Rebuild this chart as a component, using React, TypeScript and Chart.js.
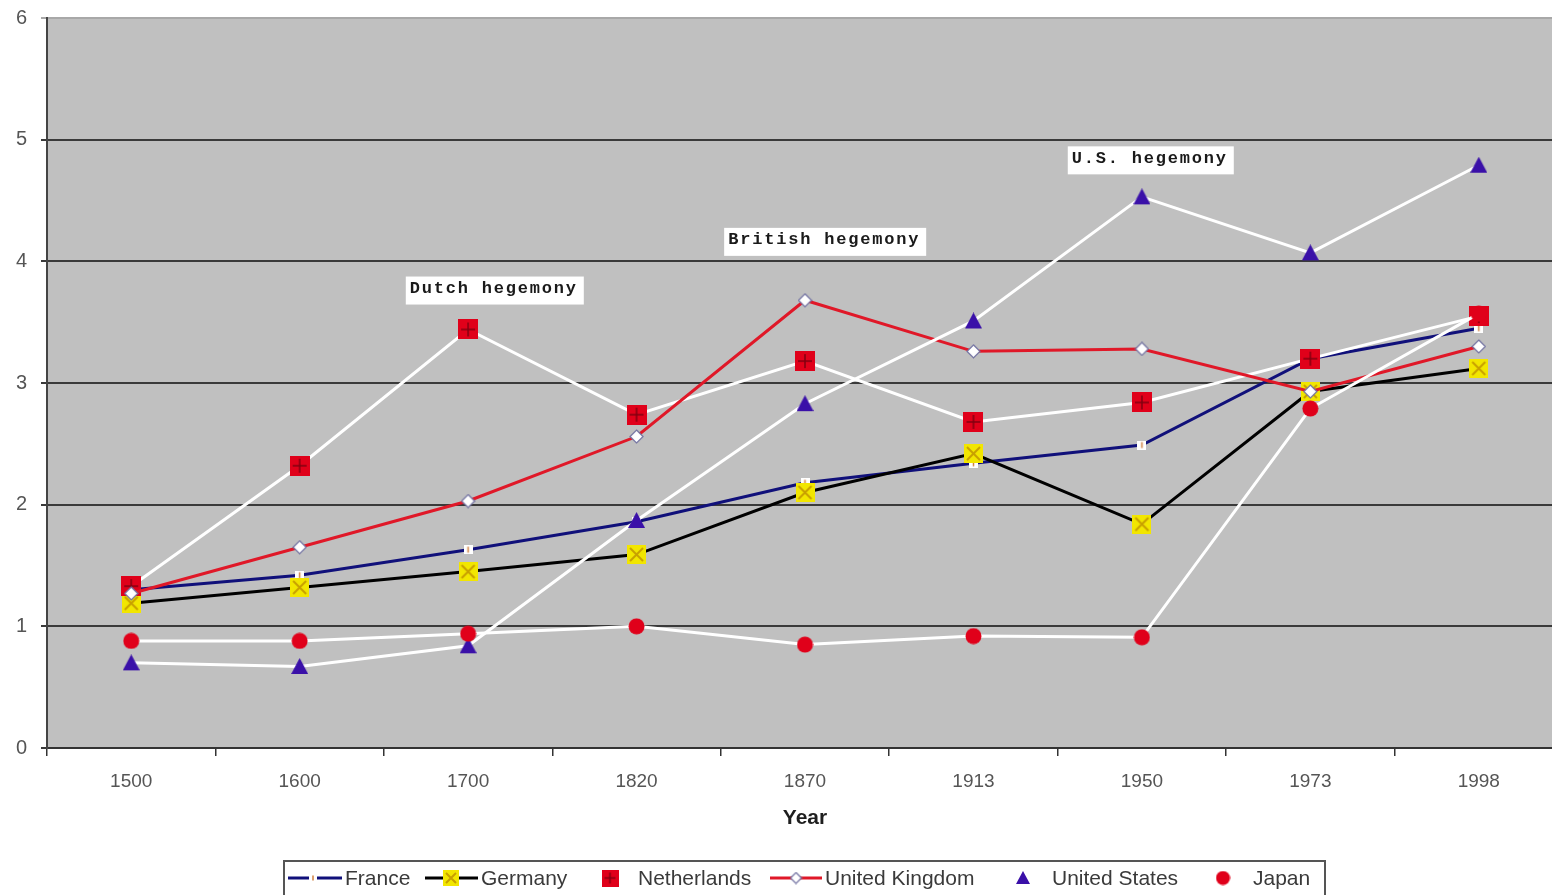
import React, { useEffect, useRef } from "react";
import { Chart, registerables } from "chart.js";
Chart.register(...registerables);

const years = ["1500", "1600", "1700", "1820", "1870", "1913", "1950", "1973", "1998"];
const france = [1.3, 1.42, 1.63, 1.86, 2.18, 2.34, 2.49, 3.2, 3.45];
const germany = [1.19, 1.32, 1.45, 1.59, 2.1, 2.42, 1.84, 2.93, 3.12];
const netherlands = [1.33, 2.32, 3.44, 2.74, 3.18, 2.68, 2.84, 3.2, 3.55];
const unitedKingdom = [1.27, 1.65, 2.03, 2.56, 3.68, 3.26, 3.28, 2.93, 3.3];
const unitedStates = [0.7, 0.67, 0.84, 1.87, 2.83, 3.51, 4.53, 4.07, 4.79];
const japan = [0.88, 0.88, 0.94, 1.0, 0.85, 0.92, 0.91, 2.79, 3.57];
const seriesNames = ["France", "Germany", "Netherlands", "United Kingdom", "United States", "Japan"];
const annotationTexts = ["Dutch hegemony", "British hegemony", "U.S. hegemony"];
const annotationX = [1.63, 3.52, 5.56];
const annotationY = [3.76, 4.16, 4.83];
const xTitle = "Year";

function mk(w: number, h: number, draw: (c: CanvasRenderingContext2D) => void) {
  const c = document.createElement("canvas");
  c.width = w;
  c.height = h;
  draw(c.getContext("2d") as CanvasRenderingContext2D);
  return c;
}

function franceMarker(s: number) {
  return mk(s, s, (c) => {
    c.fillStyle = "#ffffff";
    c.fillRect(0, 0, s, s);
    c.strokeStyle = "#d08040";
    c.lineWidth = 1.5;
    c.beginPath();
    c.moveTo(s / 2, 1.5);
    c.lineTo(s / 2, s - 1.5);
    c.stroke();
  });
}
function germanyMarker(s: number) {
  return mk(s, s, (c) => {
    c.fillStyle = "#f2e600";
    c.fillRect(0, 0, s, s);
    c.strokeStyle = "#c8a000";
    c.lineWidth = 2;
    c.beginPath();
    c.moveTo(3, 3);
    c.lineTo(s - 3, s - 3);
    c.moveTo(s - 3, 3);
    c.lineTo(3, s - 3);
    c.stroke();
  });
}
function netherlandsMarker(s: number) {
  return mk(s, s, (c) => {
    c.fillStyle = "#e0001a";
    c.fillRect(0, 0, s, s);
    c.strokeStyle = "#800010";
    c.lineWidth = 1.5;
    c.beginPath();
    c.moveTo(s / 2, 3);
    c.lineTo(s / 2, s - 3);
    c.moveTo(3, s / 2);
    c.lineTo(s - 3, s / 2);
    c.stroke();
  });
}
function ukMarker(s: number) {
  return mk(s, s, (c) => {
    c.fillStyle = "#ffffff";
    c.strokeStyle = "#7070a0";
    c.lineWidth = 1.2;
    c.beginPath();
    c.moveTo(s / 2, 1);
    c.lineTo(s - 1, s / 2);
    c.lineTo(s / 2, s - 1);
    c.lineTo(1, s / 2);
    c.closePath();
    c.fill();
    c.stroke();
  });
}
function usMarker(s: number) {
  return mk(s, s, (c) => {
    c.fillStyle = "#3a10a8";
    c.beginPath();
    c.moveTo(s / 2, 0);
    c.lineTo(s, s - 1);
    c.lineTo(0, s - 1);
    c.closePath();
    c.fill();
  });
}
function japanMarker(s: number) {
  return mk(s, s, (c) => {
    c.fillStyle = "#e0001a";
    c.beginPath();
    c.arc(s / 2, s / 2, s / 2 - 0.5, 0, Math.PI * 2);
    c.fill();
  });
}

export default function App() {
  const ref = useRef<HTMLCanvasElement | null>(null);
  useEffect(() => {
    if (!ref.current) return;
    const markers = [franceMarker(9), germanyMarker(19), netherlandsMarker(20), ukMarker(15), usMarker(17), japanMarker(17)];
    const legendMarkers = [franceMarker(8), germanyMarker(16), netherlandsMarker(17), ukMarker(13), usMarker(14), japanMarker(15)];
    const colors = ["#10107a", "#000000", "#ffffff", "#e01828", "#ffffff", "#ffffff"];
    const data = [france, germany, netherlands, unitedKingdom, unitedStates, japan];

    const bgPlugin = {
      id: "bg",
      beforeDraw(chart: any) {
        const { ctx, chartArea } = chart;
        ctx.save();
        ctx.fillStyle = "#c0c0c0";
        ctx.fillRect(chartArea.left, chartArea.top, chartArea.right - chartArea.left, chartArea.bottom - chartArea.top);
        ctx.restore();
      },
    };

    const annoPlugin = {
      id: "anno",
      afterDatasetsDraw(chart: any) {
        const { ctx, scales } = chart;
        ctx.save();
        ctx.font = "bold 17px 'Liberation Mono', 'DejaVu Sans Mono', monospace";
        (ctx as any).letterSpacing = "1.8px";
        ctx.textBaseline = "middle";
        ctx.textAlign = "left";
        annotationTexts.forEach((t, i) => {
          const x = scales.x.getPixelForValue(annotationX[i]);
          const y = scales.y.getPixelForValue(annotationY[i]);
          const w = ctx.measureText(t).width + 10;
          ctx.fillStyle = "#ffffff";
          ctx.fillRect(x, y - 14, w, 28);
          ctx.fillStyle = "#1a1a1a";
          ctx.fillText(t, x + 4, y - 2);
        });
        ctx.restore();
      },
    };

    const legendPlugin = {
      id: "customLegend",
      afterDraw(chart: any) {
        const { ctx } = chart;
        ctx.save();
        ctx.fillStyle = "#1e1e1e";
        ctx.font = "bold 21px 'Liberation Sans', Arial, sans-serif";
        ctx.textAlign = "center";
        ctx.textBaseline = "middle";
        ctx.fillText(xTitle, 805, 818);

        ctx.strokeStyle = "#555555";
        ctx.lineWidth = 2;
        ctx.strokeRect(284, 861, 1041, 50);
        ctx.fillStyle = "#ffffff";
        ctx.fillRect(285, 862, 1039, 48);

        const y = 878;
        const items = [
          { line: [288, 342], m: 313, t: 345 },
          { line: [425, 478], m: 451, t: 481 },
          { line: null, m: 610, t: 638 },
          { line: [770, 822], m: 796, t: 825 },
          { line: null, m: 1023, t: 1052 },
          { line: null, m: 1223, t: 1253 },
        ];
        ctx.font = "21px 'Liberation Sans', Arial, sans-serif";
        ctx.textAlign = "left";
        items.forEach((it, i) => {
          if (it.line) {
            ctx.strokeStyle = colors[i];
            ctx.lineWidth = 3;
            ctx.beginPath();
            ctx.moveTo(it.line[0], y);
            ctx.lineTo(it.line[1], y);
            ctx.stroke();
          }
          const im = legendMarkers[i];
          ctx.drawImage(im, it.m - im.width / 2, y - im.height / 2);
          ctx.fillStyle = "#3a3a3a";
          ctx.fillText(seriesNames[i], it.t, y + 1);
        });
        ctx.restore();
      },
    };

    const chart = new Chart(ref.current, {
      type: "line",
      data: {
        labels: years,
        datasets: seriesNames.map((name, i) => ({
          label: name,
          data: data[i],
          borderColor: colors[i],
          backgroundColor: colors[i],
          borderWidth: 3,
          pointStyle: markers[i] as any,
          pointRadius: 8,
          tension: 0,
          fill: false,
          order: 6 - i,
        })),
      },
      options: {
        animation: false,
        responsive: false,
        maintainAspectRatio: false,
        layout: { padding: { top: 18, left: 0, right: 3, bottom: 0 } },
        plugins: { legend: { display: false }, tooltip: { enabled: false } },
        scales: {
          x: {
            offset: true,
            grid: {
              offset: true,
              drawOnChartArea: false,
              drawTicks: true,
              tickLength: 8,
              color: "#333333",
              lineWidth: 1.5,
            },
            border: { display: true, color: "#333333", width: 2 },
            ticks: {
              color: "#555555",
              font: { family: "'Liberation Sans', Arial, sans-serif", size: 19 },
              padding: 14,
              maxRotation: 0,
            },
            afterFit: (s: any) => {
              s.height = 147;
            },
          },
          y: {
            min: 0,
            max: 6,
            ticks: {
              stepSize: 1,
              color: "#555555",
              font: { family: "'Liberation Sans', Arial, sans-serif", size: 20, lineHeight: 0.3 },
              padding: 14,
            },
            grid: {
              color: (c: any) => (c.tick && c.tick.value === 6 ? "#a8a8a8" : "#3a3a3a"),
              lineWidth: 2,
              tickLength: 6,
              drawTicks: true,
            },
            border: { display: true, color: "#444444", width: 2 },
            afterFit: (s: any) => {
              s.width = 47;
            },
          },
        },
      },
      plugins: [bgPlugin, annoPlugin, legendPlugin],
    });
    return () => chart.destroy();
  }, []);

  return (
    <div style={{ position: "absolute", left: 0, top: 0, width: 1552, height: 895, overflow: "hidden", background: "#fff" }}>
      <canvas ref={ref} width={1574} height={895} style={{ display: "block", width: 1574, height: 895 }} />
    </div>
  );
}
